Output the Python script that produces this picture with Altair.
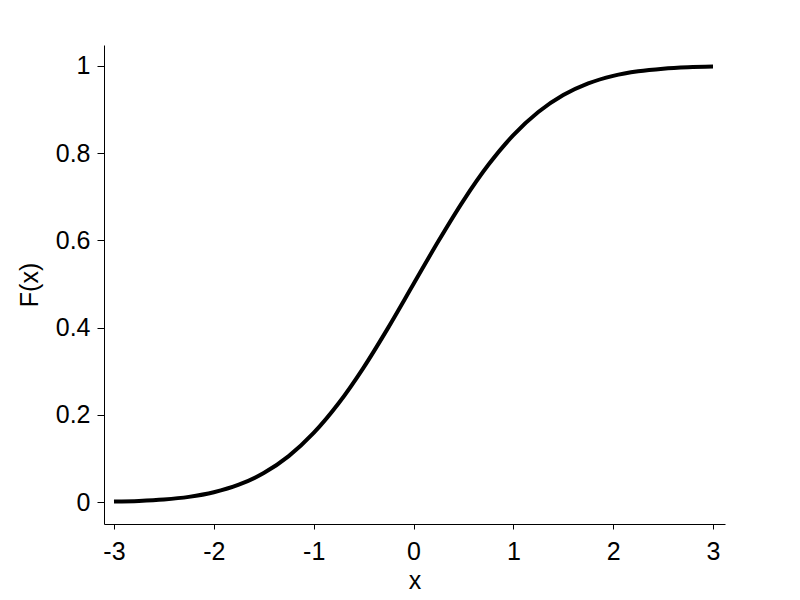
import altair as alt
import pandas as pd

xs = [-3.0, -2.75, -2.5, -2.25, -2.0, -1.75, -1.5, -1.25, -1.0, -0.75, -0.5, -0.25,
      0.0, 0.25, 0.5, 0.75, 1.0, 1.25, 1.5, 1.75, 2.0, 2.25, 2.5, 2.75, 3.0]
fx = [0.00135, 0.00298, 0.00621, 0.01222, 0.02275, 0.04006, 0.06681, 0.10565, 0.15866,
      0.22663, 0.30854, 0.40129, 0.5, 0.59871, 0.69146, 0.77337, 0.84134, 0.89435,
      0.93319, 0.95994, 0.97725, 0.98778, 0.99379, 0.99702, 0.99865]
x_ticks = [-3, -2, -1, 0, 1, 2, 3]
y_ticks = [0, 0.2, 0.4, 0.6, 0.8, 1]

df = pd.DataFrame({"x": xs, "F": fx})

font = "Liberation Sans"

chart = alt.Chart(df).mark_line(color="black", strokeWidth=4, interpolate="monotone").encode(
    x=alt.X("x:Q", scale=alt.Scale(domain=[-3.1, 3.12], nice=False, zero=False),
            axis=alt.Axis(title="x", values=x_ticks, labelExpr="toString(datum.value)",
                          grid=False, domainColor="black", tickColor="black", tickSize=5,
                          labelFont=font, labelFontSize=25, labelColor="black", labelPadding=10,
                          titleFont=font, titleFontSize=25, titleFontWeight="normal",
                          titleColor="black", titlePadding=4)),
    y=alt.Y("F:Q", scale=alt.Scale(domain=[-0.05, 1.048], nice=False, zero=False),
            axis=alt.Axis(title="F(x)", values=y_ticks, labelExpr="toString(datum.value)",
                          grid=False, domainColor="black", tickColor="black", tickSize=7,
                          labelFont=font, labelFontSize=25, labelColor="black", labelPadding=7,
                          titleFont=font, titleFontSize=25, titleFontWeight="normal",
                          titleColor="black", titlePadding=13)),
).properties(
    width=621, height=479,
    autosize=alt.AutoSizeParams(type="none"),
    padding={"left": 96, "top": 37, "right": 60, "bottom": 74},
    background="white",
).configure_view(stroke=None)

chart.save("out.html", embed_options={"renderer": "svg", "actions": False})
